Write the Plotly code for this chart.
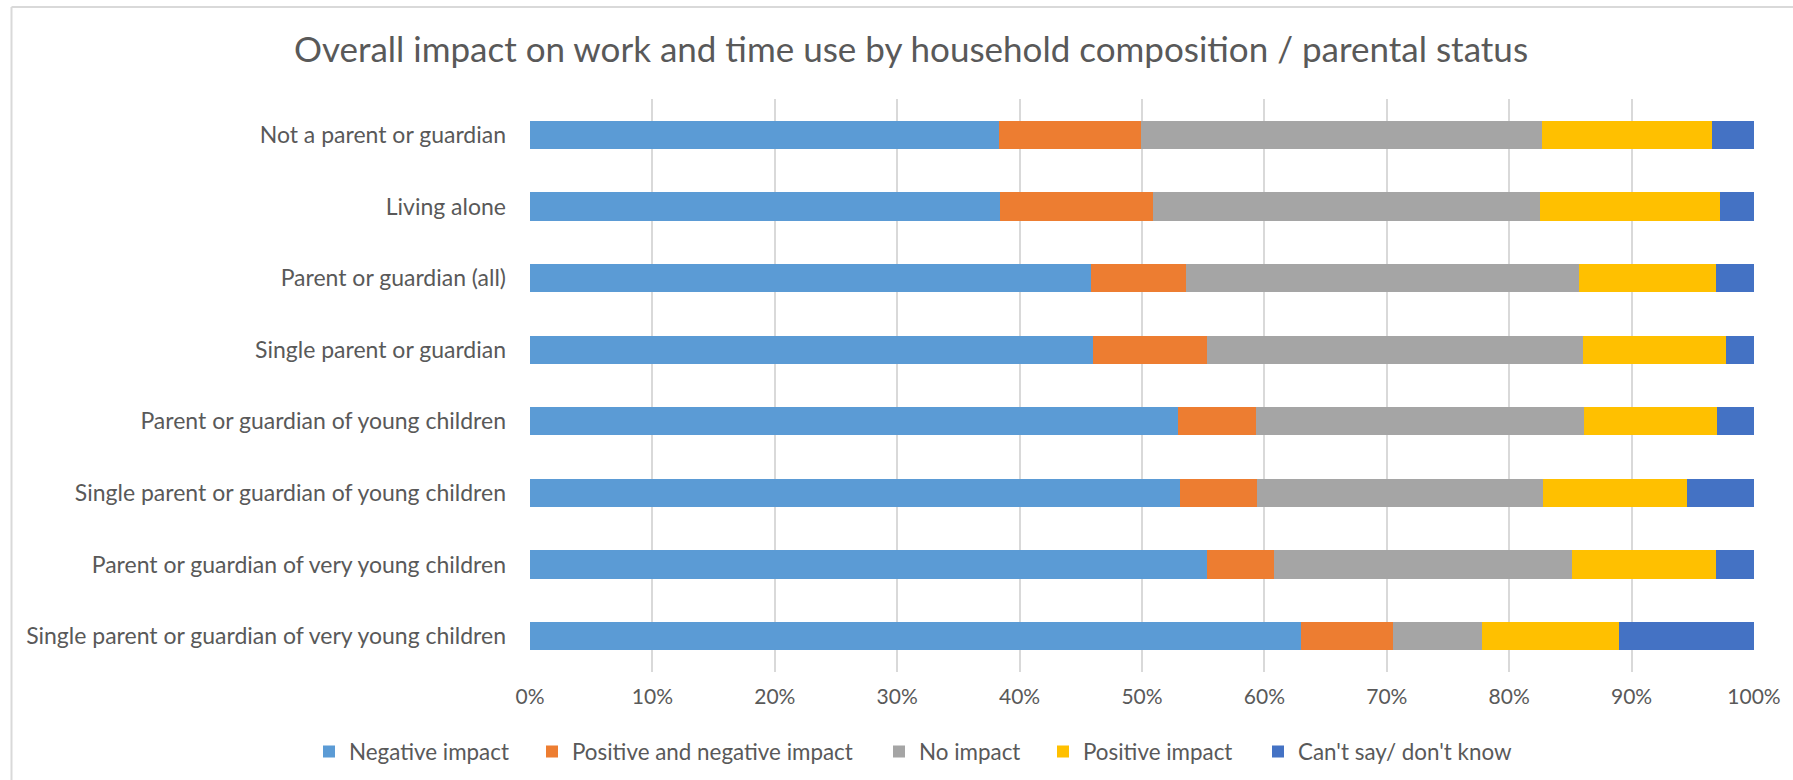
import plotly.graph_objects as go

categories = [
    "Not a parent or guardian",
    "Living alone",
    "Parent or guardian (all)",
    "Single parent or guardian",
    "Parent or guardian of young children",
    "Single parent or guardian of young children",
    "Parent or guardian of very young children",
    "Single parent or guardian of very young children",
]

negative_impact = [38.3, 38.4, 45.8, 46.0, 52.9, 53.1, 55.3, 63.0]
positive_and_negative = [11.6, 12.5, 7.8, 9.3, 6.4, 6.3, 5.5, 7.5]
no_impact = [32.8, 31.6, 32.1, 30.7, 26.8, 23.4, 24.3, 7.3]
positive_impact = [13.9, 14.7, 11.2, 11.7, 10.9, 11.7, 11.8, 11.2]
cant_say = [3.4, 2.8, 3.1, 2.3, 3.0, 5.5, 3.1, 11.0]

series_names = ["Negative impact", "Positive and negative impact", "No impact",
                "Positive impact", "Can't say/ don't know"]
series_values = [negative_impact, positive_and_negative, no_impact, positive_impact, cant_say]
series_colors = ["#5B9BD5", "#ED7D31", "#A5A5A5", "#FFC000", "#4472C4"]

tick_values = [i / 10 for i in range(11)]

# layout geometry (pixels)
W, H = 1793, 780
L, R, T, B = 530, 39, 99, 108
FONT = "Lato"
TXT = "#595959"
legend_marker_px = [333, 556, 903, 1067, 1282]
legend_ids = ["legend", "legend2", "legend3", "legend4", "legend5"]

fig = go.Figure()
for name, vals, col, lid in zip(series_names, series_values, series_colors, legend_ids):
    fig.add_trace(go.Bar(
        y=categories,
        x=[v / 100 for v in vals],
        name=name,
        orientation="h",
        marker=dict(color=col, line=dict(width=0)),
        legend=lid,
    ))

pw = W - L - R
ph = H - T - B
def px_to_paper_x(px):
    return (px - L) / pw
def py_to_paper_y(py):
    return (H - B - py) / ph

legend_layouts = {}
for lid, mx in zip(legend_ids, legend_marker_px):
    legend_layouts[lid] = dict(
        orientation="h",
        x=(mx - 24) / W, xanchor="left", xref="container",
        y=1 - 752 / H, yanchor="middle", yref="container",
        font=dict(family=FONT, size=22.4, color=TXT),
        bgcolor="rgba(0,0,0,0)", borderwidth=0,
    )

fig.update_layout(
    width=W, height=H, autosize=False,
    barmode="stack",
    bargap=0.605,
    paper_bgcolor="white",
    plot_bgcolor="white",
    margin=dict(l=L, r=R, t=T, b=B, pad=0),
    font=dict(family=FONT, color=TXT),
    title=dict(
        text="Overall impact on work and time use by household composition / parental status",
        x=911 / W, xanchor="center", xref="container",
        y=1 - 50 / H, yanchor="middle", yref="container",
        font=dict(family=FONT, size=35, color=TXT),
    ),
    xaxis=dict(
        range=[0, 1], tickvals=tick_values, tickformat=".0%",
        showgrid=True, gridcolor="#D9D9D9", gridwidth=2,
        zeroline=False, showline=False,
        tickfont=dict(family=FONT, size=21, color=TXT),
        ticks="", ticklabelstandoff=10,
    ),
    yaxis=dict(
        autorange="reversed",
        showgrid=False, zeroline=False, showline=False,
        tickfont=dict(family=FONT, size=23, color=TXT),
        ticks="", ticklabelstandoff=23,
    ),
    showlegend=True,
    **legend_layouts,
)

# chart area border (top and left edges visible)
fig.add_shape(type="line", xref="paper", yref="paper",
              x0=px_to_paper_x(11.5), x1=px_to_paper_x(W + 5),
              y0=py_to_paper_y(7), y1=py_to_paper_y(7),
              line=dict(color="#D9D9D9", width=2))
fig.add_shape(type="line", xref="paper", yref="paper",
              x0=px_to_paper_x(11.5), x1=px_to_paper_x(11.5),
              y0=py_to_paper_y(7), y1=py_to_paper_y(H + 5),
              line=dict(color="#D9D9D9", width=2))

fig.write_html("out.html", config={"displayModeBar": False},
               post_script="document.body.style.margin='0';")
